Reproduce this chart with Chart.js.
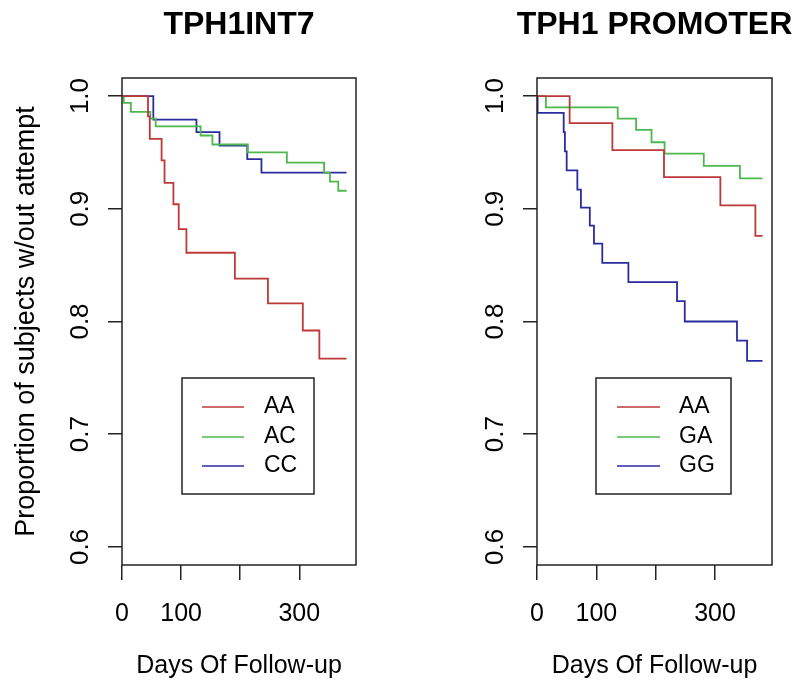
<!DOCTYPE html>
<html lang="en">
<head>
<meta charset="UTF-8">
<title>TPH1 survival curves</title>
<script src="https://cdn.jsdelivr.net/npm/chart.js"></script>
<style>
  body { margin: 0; background: #fff; }
  #wrap { position: relative; width: 800px; height: 692px; }
  #wrap canvas { position: absolute; top: 0; }
</style>
</head>
<body>
<div id="wrap">
  <canvas id="leftChart" width="400" height="692" style="left:0"></canvas>
  <canvas id="rightChart" width="400" height="692" style="left:400px"></canvas>
</div>
<script>
  // axis ticks
  const xTicks = [0, 100, 200, 300];
  const xTickLabels = ['0', '100', '', '300'];
  const yTicks = [0.6, 0.7, 0.8, 0.9, 1.0];

  const leftTitle = 'TPH1INT7';
  const rightTitle = 'TPH1 PROMOTER';
  const leftGroups = ['AA', 'AC', 'CC'];
  const rightGroups = ['AA', 'GA', 'GG'];

  // TPH1INT7: days and proportion without attempt
  const intAADays = [0, 44, 47, 67, 72, 87, 96, 109, 191, 247, 306, 334, 380];
  const intAASurv = [1, 0.982, 0.962, 0.943, 0.923, 0.904, 0.882, 0.861, 0.838, 0.816, 0.792, 0.767, 0.767];
  const intACDays = [0, 3, 15, 48, 57, 133, 153, 213, 279, 342, 352, 366, 380];
  const intACSurv = [1, 0.994, 0.986, 0.980, 0.973, 0.965, 0.957, 0.950, 0.941, 0.932, 0.924, 0.916, 0.916];
  const intCCDays = [0, 53, 126, 165, 212, 236, 380];
  const intCCSurv = [1, 0.979, 0.968, 0.956, 0.944, 0.932, 0.932];

  // TPH1 PROMOTER
  const proAADays = [0, 55, 127, 214, 309, 368, 380];
  const proAASurv = [1, 0.976, 0.952, 0.928, 0.903, 0.876, 0.876];
  const proGADays = [0, 15, 136, 167, 193, 215, 281, 342, 380];
  const proGASurv = [1, 0.990, 0.980, 0.970, 0.959, 0.949, 0.938, 0.927, 0.927];
  const proGGDays = [0, 1, 45, 47, 50, 68, 74, 89, 96, 110, 154, 236, 249, 337, 354, 380];
  const proGGSurv = [1, 0.985, 0.968, 0.951, 0.934, 0.917, 0.901, 0.885, 0.869, 0.852, 0.835, 0.818, 0.800, 0.783, 0.765, 0.765];

  const lineColors = ['#BE3838', '#4DB84D', '#2B2BA0'];
  const axisColor = '#222';
  const fam = "'Liberation Sans', Arial, sans-serif";

  // box around the plot area, the main title (not squeezed to the box width
  // like the built-in title would be) and the little legend inside the box
  const frameLegend = {
    id: 'frameLegend',
    afterDatasetsDraw(chart, args, o) {
      const { ctx, chartArea: a } = chart;
      ctx.save();
      ctx.strokeStyle = axisColor;
      ctx.lineWidth = 1.5;
      ctx.strokeRect(a.left, a.top, a.right - a.left, a.bottom - a.top);

      ctx.fillStyle = '#000';
      ctx.textAlign = 'center';
      ctx.textBaseline = 'middle';
      ctx.font = 'bold 32px ' + fam;
      ctx.fillText(o.title, (a.left + a.right) / 2, 25);

      ctx.strokeRect(o.x, o.y, o.w, o.h);
      ctx.font = '23px ' + fam;
      ctx.textAlign = 'left';
      chart.data.datasets.forEach((ds, i) => {
        const y = o.rowY[i];
        ctx.strokeStyle = ds.borderColor;
        ctx.beginPath();
        ctx.moveTo(o.lineX0, y);
        ctx.lineTo(o.lineX1, y);
        ctx.stroke();
        ctx.fillText(ds.label, o.textX, y);
      });
      ctx.restore();
    }
  };

  function makeChart(id, title, groups, series, o) {
    const datasets = series.map((s, i) => ({
      label: groups[i],
      data: s[0].map((d, j) => ({ x: d, y: s[1][j] })),
      borderColor: lineColors[i],
      borderWidth: 1.8,
      stepped: 'before',   // KM style: flat, then drop at the event day
      pointRadius: 0,
      fill: false
    }));

    return new Chart(document.getElementById(id), {
      type: 'line',
      data: { datasets },
      options: {
        responsive: false,
        animation: false,
        devicePixelRatio: 1,
        layout: { padding: { left: 0, right: o.padRight, top: 78, bottom: 0 } },
        plugins: {
          legend: { display: false },
          tooltip: { enabled: false },
          title: { display: false },
          frameLegend: Object.assign({ title: title }, o.legend)
        },
        scales: {
          x: {
            type: 'linear', min: 0, max: 396,
            afterBuildTicks: s => { s.ticks = xTicks.map(v => ({ value: v })); },
            afterFit: s => { s.height = 127; },
            ticks: {
              autoSkip: false, maxRotation: 0, padding: 19, color: '#000',
              font: { family: fam, size: 25 },
              callback: (v, i) => xTickLabels[i]
            },
            grid: { drawOnChartArea: false, tickLength: 15, color: axisColor, lineWidth: 1.5 },
            border: { display: false },
            title: {
              display: true, text: 'Days Of Follow-up', color: '#000',
              font: { family: fam, size: 25 },
              padding: { top: 0, bottom: 11 }
            }
          },
          y: {
            min: 0.584, max: 1.016,
            afterBuildTicks: s => { s.ticks = yTicks.map(v => ({ value: v })); },
            afterFit: s => { s.width = o.yWidth; },
            ticks: {
              minRotation: 90, maxRotation: 90, crossAlign: 'center', padding: 9, color: '#000',
              font: { family: fam, size: 26 },
              callback: v => v.toFixed(1)
            },
            grid: { drawOnChartArea: false, tickLength: 14, color: axisColor, lineWidth: 1.5 },
            border: { display: false },
            title: {
              display: o.yTitle, text: 'Proportion of subjects w/out attempt', color: '#000',
              font: { family: fam, size: 27 },
              padding: { top: 10 }
            }
          }
        }
      },
      plugins: [frameLegend]
    });
  }

  makeChart('leftChart', leftTitle, leftGroups,
    [[intAADays, intAASurv], [intACDays, intACSurv], [intCCDays, intCCSurv]],
    { padRight: 44, yWidth: 122, yTitle: true,
      legend: { x: 182, y: 378, w: 132, h: 116, lineX0: 202, lineX1: 244, textX: 264, rowY: [407, 437, 466] } });

  makeChart('rightChart', rightTitle, rightGroups,
    [[proAADays, proAASurv], [proGADays, proGASurv], [proGGDays, proGGSurv]],
    { padRight: 28, yWidth: 137, yTitle: false,
      legend: { x: 196, y: 378, w: 135, h: 116, lineX0: 217, lineX1: 260, textX: 279, rowY: [407, 437, 466] } });
</script>
</body>
</html>
